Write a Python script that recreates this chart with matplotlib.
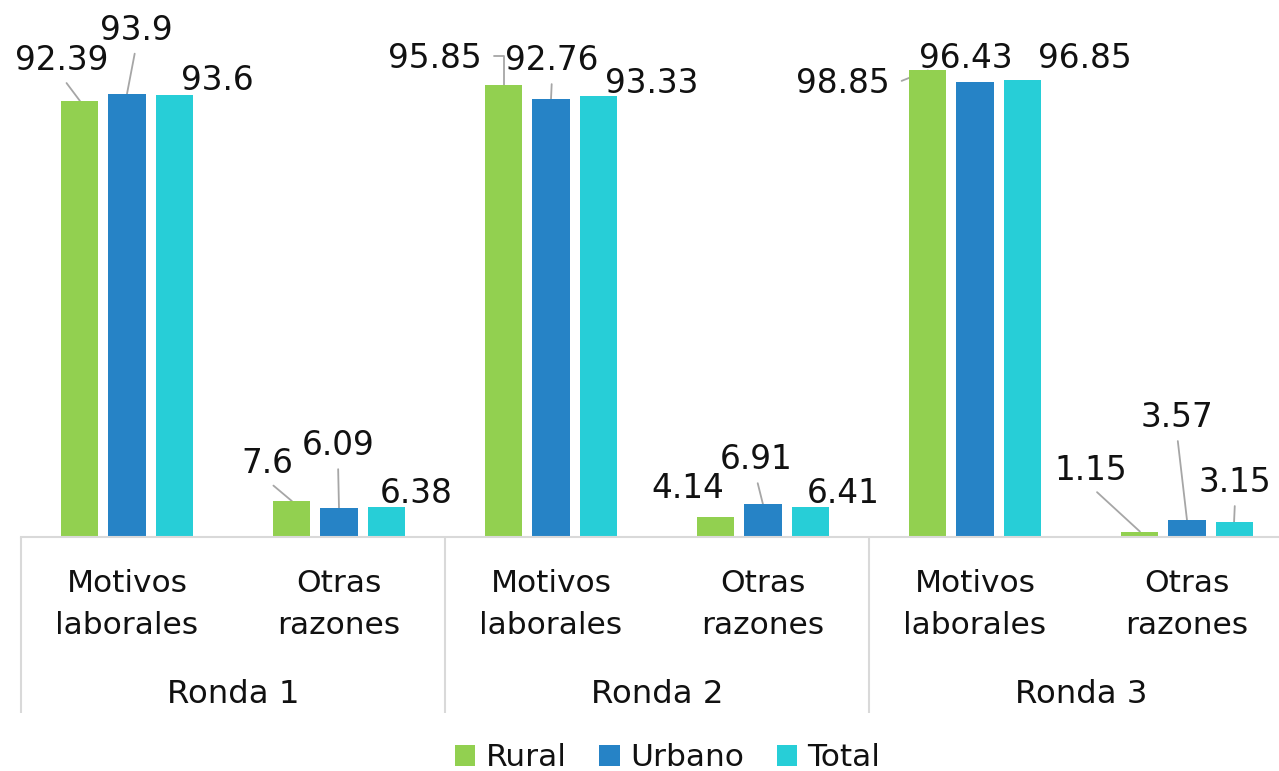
import matplotlib
matplotlib.use('Agg')
import matplotlib.pyplot as plt
import numpy as np

# ---------------- data ----------------
rondas = ['Ronda 1', 'Ronda 2', 'Ronda 3']
razones = ['Motivos\nlaborales', 'Otras\nrazones']
series = ['Rural', 'Urbano', 'Total']
rural = [92.39, 7.6, 95.85, 4.14, 98.85, 1.15]
urbano = [93.9, 6.09, 92.76, 6.91, 96.43, 3.57]
total = [93.6, 6.38, 93.33, 6.41, 96.85, 3.15]

# ---------------- style ----------------
colors = ['#92D050', '#2683C6', '#27CED7']
text_color = '#111111'
axis_color = '#D9D9D9'
leader_color = '#A6A6A6'
FS = 22.5
FS_LAB = 23.6
FS_GRP = 23.3

# label placement: (dx px, dy px downward of baseline from bar top, leader kind)
label_layout = {
    'Rural':  [(-18, -31, 's'), (-25, -28, 's'), (-69, -17, 'elbow'),
               (-28, -19, None), (-85, 23, 'side'), (-49, -52, 's')],
    'Urbano': [(9, -54, 's'), (-1, -53, 's'), (1, -29, 's'),
               (-7, -35, 's'), (-9, -14, None), (-10, -93, 's')],
    'Total':  [(43.5, -5, None), (30, -4, None), (54, -3, None),
               (33, -4, None), (63, -12, None), (1, -30, 's')],
}

W, H = 1279, 771
fig = plt.figure(figsize=(W / 100, H / 100), dpi=100)
ax = fig.add_axes([21 / W, (H - 537) / H, 1272 / W, 472 / H])

n_cat = len(rondas) * len(razones)
x = np.arange(n_cat)
bar_w = 0.175
offs = [-0.222, 0.0, 0.222]
values = {'Rural': rural, 'Urbano': urbano, 'Total': total}

handles = []
for i, s in enumerate(series):
    b = ax.bar(x + offs[i], values[s], width=bar_w, color=colors[i], zorder=2,
               label=s)
    handles.append(b)
    for j, v in enumerate(values[s]):
        dx, dy, kind = label_layout[s][j]
        kw = dict(xy=(x[j] + offs[i], v), xytext=(dx, -dy),
                  textcoords='offset pixels', ha='center', va='baseline',
                  fontsize=FS_LAB, color=text_color, zorder=1)
        if kind == 's':
            kw['arrowprops'] = dict(arrowstyle='-', color=leader_color, lw=1.3,
                                    relpos=(0.5, 0.0), shrinkA=3, shrinkB=0)
        elif kind == 'elbow':
            kw['arrowprops'] = dict(arrowstyle='-', color=leader_color, lw=1.3,
                                    relpos=(1.0, 0.55), shrinkA=7, shrinkB=0,
                                    connectionstyle='angle,angleA=0,angleB=90,rad=0')
        elif kind == 'side':
            kw['arrowprops'] = dict(arrowstyle='-', color=leader_color, lw=1.3,
                                    relpos=(1.0, 0.45), shrinkA=7, shrinkB=0)
        ax.annotate(f'{v:g}', **kw)

ax.set_xlim(-0.5, n_cat - 0.5)
ax.set_ylim(0, 100)
ax.set_xticks([])
ax.set_yticks([])
for sp in ['top', 'left', 'right']:
    ax.spines[sp].set_visible(False)
ax.spines['bottom'].set_color(axis_color)
ax.spines['bottom'].set_linewidth(1.5)
ax.patch.set_alpha(0)

trans = ax.get_xaxis_transform()
# category labels
for j in range(n_cat):
    ax.text(x[j], -0.143, razones[j % len(razones)], transform=trans,
            ha='center', va='center', fontsize=FS, color=text_color,
            linespacing=1.55)
# group labels and separators
for k, r in enumerate(rondas):
    c = (2 * k + 0.5)
    ax.text(c, -0.3517, r, transform=trans, ha='center', va='baseline',
            fontsize=FS_GRP, color=text_color)
for k in range(len(rondas) + 1):
    xs = 2 * k - 0.5
    ax.plot([xs, xs], [0, -0.373], transform=trans, color=axis_color,
            lw=1.5, clip_on=False, solid_capstyle='butt')

fig.legend(handles, series, loc='center',
           bbox_to_anchor=(667.5 / W, (H - 758) / H), ncol=3, frameon=False,
           fontsize=FS, handlelength=0.65, handleheight=0.65,
           handletextpad=0.33, columnspacing=1.05, labelcolor=text_color,
           borderpad=0, borderaxespad=0)

fig.savefig('out.png', dpi=100)
